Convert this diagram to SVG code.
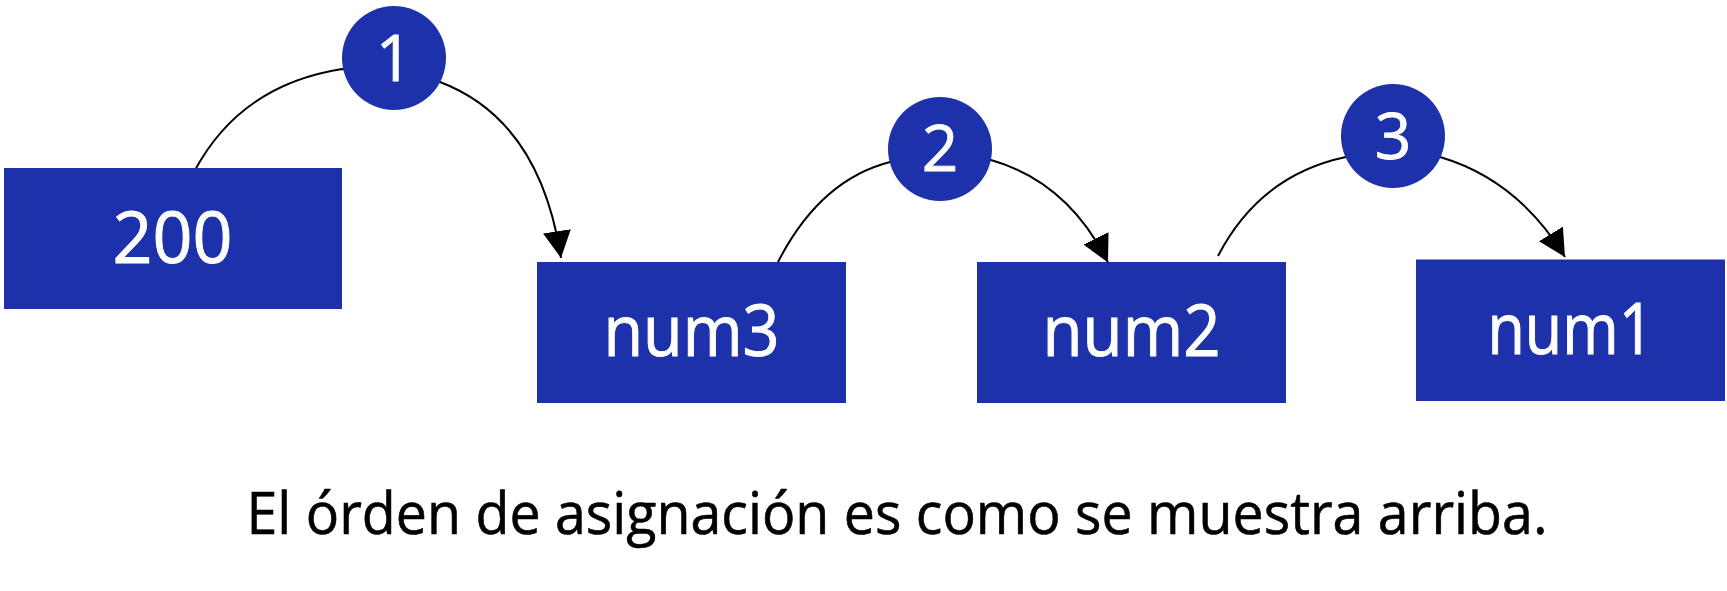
<svg xmlns="http://www.w3.org/2000/svg" width="1727" height="591" viewBox="0 0 1727 591">
<defs>
<style>
.box{fill:#1c31aa}
.step{fill:#1c31aa}
.lbl{font-family:"Open Sans","Noto Sans",sans-serif;font-size:72px;fill:#ffffff;stroke:#ffffff;stroke-width:1;text-anchor:middle}
.num{font-family:"Open Sans","Noto Sans",sans-serif;font-size:64px;fill:#ffffff;stroke:#ffffff;stroke-width:0.8;text-anchor:middle}
.edge{fill:none;stroke:#000000;stroke-width:2}
.cap{font-family:"Open Sans","Noto Sans",sans-serif;font-size:58px;fill:#000000;stroke:#000000;stroke-width:0.6}
</style>
<marker id="arr" markerUnits="userSpaceOnUse" markerWidth="30" markerHeight="30" refX="27" refY="14" orient="auto">
<path d="M0,0 L27,14 L0,28 z" fill="#000000"/>
</marker>
</defs>
<rect width="1727" height="591" fill="#ffffff"/>
<g id="connectors">
<path class="edge" d="M194,172 Q240,85 342,69 L440,82 Q540,120 561,258" marker-end="url(#arr)"/>
<path class="edge" d="M778,262 Q820,180 890,162 L991,160 Q1068,182 1108,262.5" marker-end="url(#arr)"/>
<path class="edge" d="M1218,256 Q1260,175 1346,157 L1440,157 Q1518,180 1565,257" marker-end="url(#arr)"/>
</g>
<g id="node-200">
<rect class="box" x="4" y="168" width="338" height="141"/>
<text class="lbl" x="172.5" y="262.5" textLength="120" lengthAdjust="spacingAndGlyphs">200</text>
</g>
<g id="node-num3">
<rect class="box" x="537" y="262" width="309" height="141"/>
<text class="lbl" x="691.5" y="356" textLength="176" lengthAdjust="spacingAndGlyphs">num3</text>
</g>
<g id="node-num2">
<rect class="box" x="977" y="262" width="309" height="141"/>
<text class="lbl" x="1131.5" y="356" textLength="178" lengthAdjust="spacingAndGlyphs">num2</text>
</g>
<g id="node-num1">
<rect class="box" x="1416" y="259.5" width="309" height="141.5"/>
<text class="lbl" x="1570.5" y="353.5" textLength="166" lengthAdjust="spacingAndGlyphs">num1</text>
</g>
<g id="step-1">
<circle class="step" cx="394" cy="58" r="52"/>
<text class="num" x="394" y="81">1</text>
</g>
<g id="step-2">
<circle class="step" cx="940" cy="149" r="52"/>
<text class="num" x="940" y="171">2</text>
</g>
<g id="step-3">
<circle class="step" cx="1393" cy="136" r="52"/>
<text class="num" x="1393" y="158.5">3</text>
</g>
<g id="caption">
<text class="cap" x="246.5" y="534" textLength="1301" lengthAdjust="spacingAndGlyphs">El órden de asignación es como se muestra arriba.</text>
</g>
</svg>
